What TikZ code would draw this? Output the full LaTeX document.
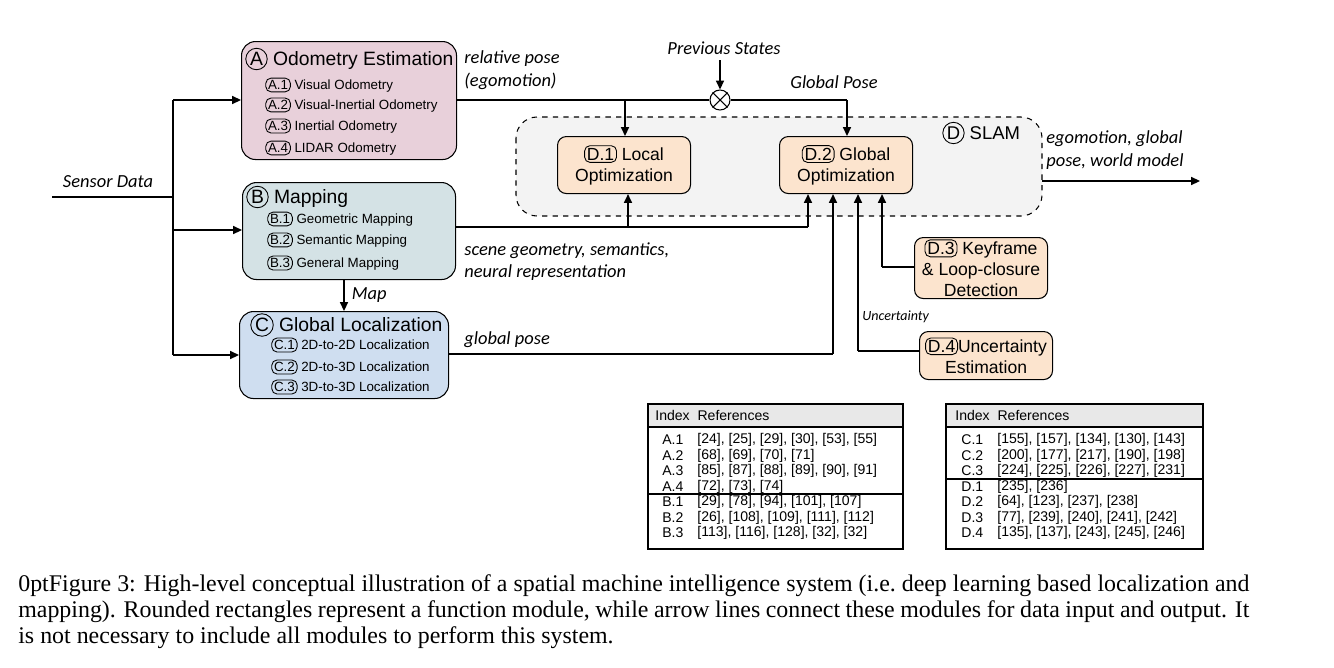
\documentclass[tikz,border=0pt]{standalone}
\usepackage{fontspec}
\setmainfont{Liberation Serif}
\newfontfamily\arialf{Liberation Sans}
\newfontfamily\itf{Carlito}
\usetikzlibrary{positioning,arrows.meta}
\definecolor{apink}{RGB}{232,208,218}
\definecolor{bteal}{RGB}{212,226,229}
\definecolor{cblue}{RGB}{207,222,240}
\definecolor{dorange}{RGB}{252,228,206}
\definecolor{slamgray}{RGB}{243,243,243}
\definecolor{headgray}{RGB}{232,232,232}
\newcommand\circl[1]{\tikz[x=1cm,y=1cm,baseline=(t.base)]\node[draw,circle,inner sep=0.6pt,minimum size=0pt,line width=0.5pt](t){#1};}
\newcommand\subtag[1]{\tikz[x=1cm,y=1cm,baseline=(t.base)]\node[draw,rounded corners=3pt,inner sep=1.3pt,minimum size=0pt,line width=0.5pt](t){#1};}
\begin{document}
\begin{tikzpicture}[x=0.02cm,y=-0.02cm,
  module/.style={draw,rounded corners=8pt,line width=0.6pt,anchor=north west,inner sep=0},
  dbox/.style={draw,rounded corners=5pt,fill=dorange,line width=0.6pt,font=\arialf\fontsize{10}{12}\selectfont,align=center,anchor=north west,inner sep=0},
  title/.style={anchor=west,font=\arialf\fontsize{11}{13}\selectfont,inner sep=0},
  item/.style={anchor=west,font=\arialf\fontsize{7.6}{9}\selectfont,inner sep=0},
  lbl/.style={font=\itf\itshape\fontsize{10.5}{13}\selectfont,align=left,inner sep=0},
  tab/.style={anchor=west,font=\arialf\fontsize{8}{9}\selectfont,inner sep=0},
  wire/.style={line width=0.9pt},
  arr/.style={wire,-{Triangle[length=5pt,width=4.5pt]}}]
\useasboundingbox (0,0) rectangle (1334,667);
% modules
\node[module,fill=apink,minimum width=215*0.02cm,minimum height=118*0.02cm] (A) at (241,41) {};
\node[title] at (245,59) {\circl{A} Odometry Estimation};
\node[item] at (265,85) {\subtag{A.1} Visual Odometry};
\node[item] at (265,105) {\subtag{A.2} Visual-Inertial Odometry};
\node[item] at (265,126) {\subtag{A.3} Inertial Odometry};
\node[item] at (265,148) {\subtag{A.4} LIDAR Odometry};
\node[module,fill=bteal,minimum width=213*0.02cm,minimum height=97*0.02cm] (B) at (242,182) {};
\node[title] at (246,197) {\circl{B} Mapping};
\node[item] at (267,219) {\subtag{B.1} Geometric Mapping};
\node[item] at (267,240) {\subtag{B.2} Semantic Mapping};
\node[item] at (267,263) {\subtag{B.3} General Mapping};
\node[module,fill=cblue,minimum width=209*0.02cm,minimum height=87*0.02cm] (C) at (239,311) {};
\node[title] at (250,325) {\circl{C} Global Localization};
\node[item] at (271,345) {\subtag{C.1} 2D-to-2D Localization};
\node[item] at (271,367) {\subtag{C.2} 2D-to-3D Localization};
\node[item] at (271,387) {\subtag{C.3} 3D-to-3D Localization};
% SLAM
\draw[dashed,rounded corners=12pt,fill=slamgray,line width=0.6pt] (516,117) rectangle (1042,216);
\node[title,font=\arialf\fontsize{10.5}{13}\selectfont] (slam) at (942,133) {\circl{D} SLAM};
\node[dbox,minimum width=133*0.02cm,minimum height=57*0.02cm] (D1) at (557,136) {\subtag{D.1} Local\\Optimization};
\node[dbox,minimum width=133*0.02cm,minimum height=57*0.02cm] (D2) at (779,136) {\subtag{D.2} Global\\Optimization};
\node[dbox,minimum width=133*0.02cm,minimum height=61*0.02cm] (D3) at (914,237) {\subtag{D.3} Keyframe\\\& Loop-closure\\Detection};
\node[dbox,minimum width=133*0.02cm,minimum height=48*0.02cm] (D4) at (919,331) {\subtag{D.4}Uncertainty\\Estimation};
\node[draw,circle,minimum size=20*0.02cm,inner sep=0,line width=0.6pt] (ox) at (720,100) {};
\draw[line width=0.6pt] (ox.north west) -- (ox.south east) (ox.north east) -- (ox.south west);
% inputs
\coordinate (sIn) at (52,197);
\coordinate (sJ) at (173,197);
\draw[wire] (sIn) -- (sJ);
\draw[wire] (173,100) -- (173,355);
\draw[arr] (173,100) -- (A.west|-0,100);
\draw[arr] (173,230) -- (B.west|-0,230);
\draw[arr] (173,355) -- (C.west|-0,355);
\node[lbl,anchor=south] at (108,188) {Sensor Data};
\draw[arr] (344,279) -- node[lbl,right=4pt] {Map} (C.north-|344,0);
% odometry
\draw[wire] (A.east|-0,100) -- (ox.west);
\draw[arr] (625,100) -- (D1.north-|625,0);
\draw[wire] (ox.east) -- (847,100);
\draw[arr] (847,100) -- (D2.north-|847,0);
\coordinate (prev) at (720,60);
\draw[arr] (prev) -- (ox.north);
\node[lbl,anchor=south] at (724,55) {Previous States};
\node[lbl,anchor=west] at (790,82) {Global Pose};
\node[lbl,anchor=north west] at (464,50) {relative pose\\(egomotion)};
% mapping
\draw[wire] (B.east|-0,227) -- (808,227);
\draw[arr] (808,227) -- (D2.south-|808,0);
\draw[arr] (628,227) -- (D1.south-|628,0);
\node[lbl,anchor=north west] at (464,242) {scene geometry, semantics,\\neural representation};
% localization
\draw[wire] (C.east|-0,354) -- (833,354);
\draw[arr] (833,354) -- (D2.south-|833,0);
\node[lbl,anchor=south west] at (464,348) {global pose};
% keyframe, uncertainty
\draw[wire] (D3.west|-0,267) -- (882,267);
\draw[arr] (882,267) -- (D2.south-|882,0);
\draw[wire] (D4.west|-0,351) -- (858,351);
\draw[arr] (858,351) -- (D2.south-|858,0);
\node[lbl,font=\itf\itshape\fontsize{8}{10}\selectfont,anchor=west] at (862,317) {Uncertainty};
% output
\coordinate (out) at (1200,181);
\draw[arr] (1042,181) -- (out);
\node[lbl,anchor=north west] at (1046,130) {egomotion, global\\pose, world model};
% tables
\fill[headgray] (648,404) rectangle (903,427);
\draw[line width=0.6pt] (648,404) rectangle (903,549) (648,427) -- (903,427) (648,494) -- (903,494);
\node[tab] at (655,415) {Index\ \ References};
\foreach \y/\i/\r in {440/A.1/{[24], [25], [29], [30], [53], [55]},
  455.5/A.2/{[68], [69], [70], [71]},
  471/A.3/{[85], [87], [88], [89], [90], [91]},
  486.5/A.4/{[72], [73], [74]},
  502/B.1/{[29], [78], [94], [101], [107]},
  517.5/B.2/{[26], [108], [109], [111], [112]},
  533/B.3/{[113], [116], [128], [32], [32]}}
  {\node[tab] at (662,\y) {\i}; \node[tab] at (697,\y) {\r};}
\fill[headgray] (946,404) rectangle (1203,427);
\draw[line width=0.6pt] (946,404) rectangle (1203,549) (946,427) -- (1203,427) (946,479) -- (1203,479);
\node[tab] at (955,415) {Index\ \ References};
\foreach \y/\i/\r in {440/C.1/{[155], [157], [134], [130], [143]},
  455.5/C.2/{[200], [177], [217], [190], [198]},
  471/C.3/{[224], [225], [226], [227], [231]},
  486.5/D.1/{[235], [236]},
  502/D.2/{[64], [123], [237], [238]},
  517.5/D.3/{[77], [239], [240], [241], [242]},
  533/D.4/{[135], [137], [243], [245], [246]}}
  {\node[tab] at (961,\y) {\i}; \node[tab] at (997,\y) {\r};}
% caption
\node[anchor=north west,text width=1231*0.02cm,align=justify,inner sep=0,font=\fontsize{13.6}{15}\selectfont\hyphenpenalty=10000] at (18,574) {Figure 3: High-level conceptual illustration of a spatial machine intelligence system (i.e.\ deep learning based localization and mapping). Rounded rectangles represent a function module, while arrow lines connect these modules for data input and output. It is not necessary to include all modules to perform this system.};
\end{tikzpicture}
\end{document}
